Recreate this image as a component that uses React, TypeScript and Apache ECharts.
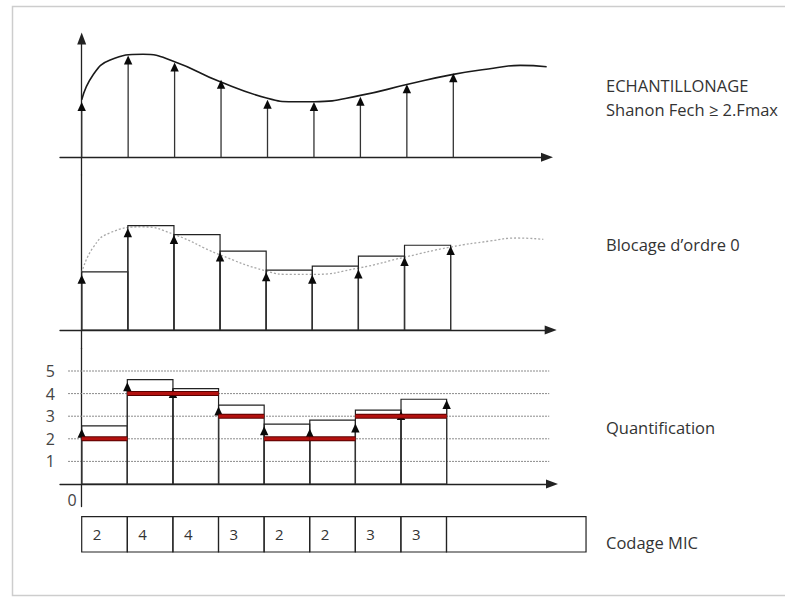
import React, { useEffect, useRef } from "react";
import * as echarts from "echarts";

// ---- data (signal units: 1 unit = 1 quantisation step) ----
const sampleX = [0, 1, 2, 3, 4, 5, 6, 7, 8];
const sampleValues = [2.45, 4.5, 4.2, 3.43, 2.55, 2.45, 2.68, 3.23, 3.72];
const curveX = [0, 0.24, 0.6, 1.32, 2.0, 2.97, 4.0, 4.55, 5.0, 6.0, 7.02, 8.0, 8.86, 9.44, 10.01];
const curveY = [2.54, 3.63, 4.29, 4.56, 4.23, 3.35, 2.61, 2.46, 2.46, 2.74, 3.23, 3.67, 3.94, 4.07, 4.01];
const holdLevels = [2.57, 4.62, 4.22, 3.49, 2.65, 2.83, 3.27, 3.75];
const quantLevels = [2, 4, 4, 3, 2, 2, 3, 3];
const gridLevels = [1, 2, 3, 4, 5];
const levelTicks = ["1", "2", "3", "4", "5"];
const codeWords = ["2", "4", "4", "3", "2", "2", "3", "3", ""];
const codeEnd = 11.06;
const stageLabels = [
  "ECHANTILLONAGE",
  "Shanon Fech \u2265 2.Fmax",
  "Blocage d\u2019ordre 0",
  "Quantification",
  "Codage MIC",
];

const FONT = "'Open Sans', Lato, sans-serif";
const INK = "#222";

function stemRender(params: any, api: any) {
  const x = api.value(0);
  const v = api.value(1);
  const top = api.coord([x, v]);
  const base = api.coord([x, 0]);
  return {
    type: "group",
    children: [
      {
        type: "line",
        shape: { x1: base[0], y1: base[1], x2: top[0], y2: top[1] + 4 },
        style: { stroke: "#333", lineWidth: 1.3 },
      },
      {
        type: "polygon",
        shape: {
          points: [
            [top[0], top[1]],
            [top[0] - 4.2, top[1] + 9],
            [top[0] + 4.2, top[1] + 9],
          ],
        },
        style: { fill: "#0a0a0a" },
      },
    ],
  };
}

function boxRender(params: any, api: any) {
  const p0 = api.coord([api.value(0), 0]);
  const p1 = api.coord([api.value(1), api.value(2)]);
  return {
    type: "rect",
    shape: { x: p0[0], y: p1[1], width: p1[0] - p0[0], height: p0[1] - p1[1] },
    style: { fill: "none", stroke: INK, lineWidth: 1.2 },
  };
}

function quantRender(params: any, api: any) {
  const p0 = api.coord([api.value(0), api.value(2)]);
  const p1 = api.coord([api.value(1), api.value(2)]);
  return {
    type: "group",
    children: [
      {
        type: "line",
        shape: { x1: p0[0], y1: p0[1], x2: p1[0], y2: p1[1] },
        style: { stroke: "#5a0000", lineWidth: 5, lineCap: "butt" },
      },
      {
        type: "line",
        shape: { x1: p0[0], y1: p0[1], x2: p1[0], y2: p1[1] },
        style: { stroke: "#b3110f", lineWidth: 3, lineCap: "butt" },
      },
    ],
  };
}

function levelRender(params: any, api: any) {
  const p0 = api.coord([api.value(0), api.value(2)]);
  const p1 = api.coord([api.value(1), api.value(2)]);
  return {
    type: "line",
    shape: { x1: p0[0], y1: p0[1], x2: p1[0], y2: p1[1] },
    style: { stroke: "#8a8a8a", lineWidth: 1, lineDash: [2, 1] },
  };
}

function codeRender(params: any, api: any) {
  const idx = api.value(2);
  const p0 = api.coord([api.value(0), 0]);
  const p1 = api.coord([api.value(1), 1]);
  return {
    type: "group",
    children: [
      {
        type: "rect",
        shape: { x: p0[0], y: p1[1], width: p1[0] - p0[0], height: p0[1] - p1[1] },
        style: { fill: "none", stroke: INK, lineWidth: 1.2 },
      },
      {
        type: "text",
        style: {
          text: codeWords[idx],
          x: p0[0] + 11,
          y: (p0[1] + p1[1]) / 2,
          align: "left",
          verticalAlign: "middle",
          fontSize: 15,
          fontFamily: FONT,
          fill: "#333",
        },
      },
    ],
  };
}

function zeroRender(params: any, api: any) {
  const p = api.coord([api.value(0), api.value(1)]);
  return {
    type: "text",
    style: {
      text: "0",
      x: p[0] - 5,
      y: p[1] + 16,
      align: "right",
      verticalAlign: "middle",
      fontSize: 16,
      fontFamily: FONT,
      fill: "#444",
    },
  };
}

export default function App() {
  const ref = useRef<HTMLDivElement>(null);

  useEffect(() => {
    if (!ref.current) return;
    const chart = echarts.init(ref.current, undefined, { renderer: "svg" });

    const axisLine = (arrow: boolean) => ({
      show: true,
      onZero: true,
      symbol: arrow ? ["none", "triangle"] : ["none", "none"],
      symbolSize: [9, 12],
      lineStyle: { color: INK, width: 1.3 },
    });
    const hiddenBits = {
      axisTick: { show: false },
      axisLabel: { show: false },
      splitLine: { show: false },
    };

    const samples = sampleX.map((x, i) => [x, sampleValues[i]]);
    const curve = curveX.map((x, i) => [x, curveY[i]]);
    const boxes = holdLevels.map((h, i) => [sampleX[i], sampleX[i + 1], h]);
    const quant = quantLevels.map((q, i) => [sampleX[i], sampleX[i + 1], q]);
    const levels = gridLevels.map((l) => [-0.3, 10.25, l]);
    const cells = codeWords.map((_, i) => [
      sampleX[i],
      i + 1 < sampleX.length ? sampleX[i + 1] : codeEnd,
      i,
    ]);

    chart.setOption({
      animation: false,
      backgroundColor: "#ffffff",
      grid: [
        { left: 60, top: 38.5, width: 487, height: 136.5 },
        { left: 60, top: 175, width: 490.7, height: 173.4 },
        { left: 60, top: 348.4, width: 492, height: 158.2 },
        { left: 60, top: 516.6, width: 530, height: 35.4 },
      ],
      xAxis: [
        { type: "value", gridIndex: 0, min: -0.467, max: 10.017, axisLine: axisLine(true), ...hiddenBits },
        { type: "value", gridIndex: 1, min: -0.471, max: 10.17, axisLine: axisLine(true), ...hiddenBits },
        { type: "value", gridIndex: 2, min: -0.476, max: 10.31, axisLine: axisLine(true), ...hiddenBits },
        { type: "value", gridIndex: 3, min: -0.476, max: 11.147, axisLine: { show: false }, ...hiddenBits },
      ],
      yAxis: [
        { type: "value", gridIndex: 0, min: -0.783, max: 5.257, axisLine: axisLine(true), ...hiddenBits },
        { type: "value", gridIndex: 1, min: -0.814, max: 6.858, axisLine: axisLine(false), ...hiddenBits },
        {
          type: "value",
          gridIndex: 2,
          min: -1,
          max: 6,
          interval: 1,
          axisLine: axisLine(false),
          axisTick: { show: false },
          splitLine: { show: false },
          axisLabel: {
            show: true,
            margin: 5,
            fontSize: 16,
            fontFamily: FONT,
            color: "#444",
            padding: [0, 0, 8, 0],
            formatter: (v: number) => {
              const k = gridLevels.indexOf(v);
              return k >= 0 ? levelTicks[k] : "";
            },
          },
        },
        { type: "value", gridIndex: 3, min: 0, max: 1, axisLine: { show: false }, ...hiddenBits },
      ],
      series: [
        // top panel: sampling
        {
          type: "line",
          xAxisIndex: 0,
          yAxisIndex: 0,
          data: curve,
          smooth: 0.5,
          showSymbol: false,
          lineStyle: { color: "#1a1a1a", width: 1.6 },
          z: 2,
        },
        { type: "custom", xAxisIndex: 0, yAxisIndex: 0, data: samples, renderItem: stemRender, z: 3 },
        // middle panel: zero-order hold
        {
          type: "line",
          xAxisIndex: 1,
          yAxisIndex: 1,
          data: curve,
          smooth: 0.5,
          showSymbol: false,
          lineStyle: { color: "#a8a8a8", width: 1.3, type: [2, 2] },
          z: 1,
        },
        { type: "custom", xAxisIndex: 1, yAxisIndex: 1, data: boxes, renderItem: boxRender, z: 2 },
        { type: "custom", xAxisIndex: 1, yAxisIndex: 1, data: samples, renderItem: stemRender, z: 3 },
        // bottom panel: quantisation
        { type: "custom", xAxisIndex: 2, yAxisIndex: 2, data: levels, renderItem: levelRender, z: 1 },
        { type: "custom", xAxisIndex: 2, yAxisIndex: 2, data: boxes, renderItem: boxRender, z: 2 },
        { type: "custom", xAxisIndex: 2, yAxisIndex: 2, data: samples, renderItem: stemRender, z: 3 },
        { type: "custom", xAxisIndex: 2, yAxisIndex: 2, data: quant, renderItem: quantRender, z: 4 },
        { type: "custom", xAxisIndex: 2, yAxisIndex: 2, data: [[0, 0]], renderItem: zeroRender, z: 4 },
        // code row
        { type: "custom", xAxisIndex: 3, yAxisIndex: 3, data: cells, renderItem: codeRender, z: 2 },
      ],
      graphic: [
        {
          type: "rect",
          z: -10,
          shape: { x: 12.5, y: 6.5, width: 900, height: 589 },
          style: {
            fill: "none",
            stroke: "#cdcdcd",
            lineWidth: 1.5,
          },
        },
        ...[85, 109, 244, 427, 542].map((y, i) => ({
          type: "text",
          x: 606,
          y,
          style: {
            text: stageLabels[i],
            fontSize: 16.5,
            fontFamily: FONT,
            fill: "#333",
            verticalAlign: "middle",
          },
        })),
      ],
    });

    return () => chart.dispose();
  }, []);

  return (
    <div
      ref={ref}
      style={{ position: "fixed", left: 0, top: 0, width: 785, height: 598, background: "#fff" }}
    />
  );
}
